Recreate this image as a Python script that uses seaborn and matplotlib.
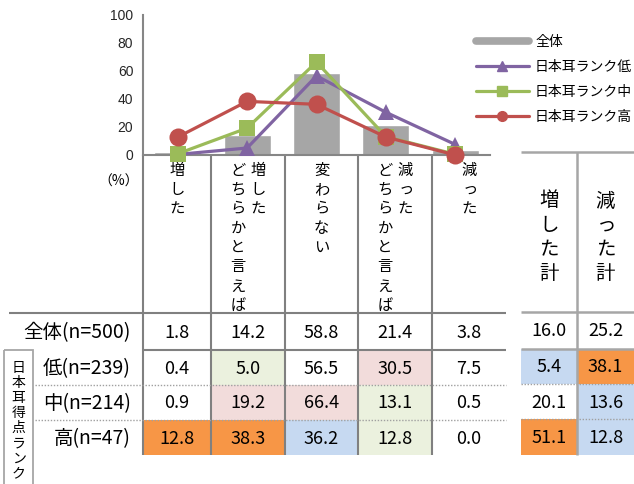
import numpy as np
import pandas as pd
import matplotlib
matplotlib.use("Agg")
import matplotlib.pyplot as plt
from matplotlib.lines import Line2D
from matplotlib.patches import Rectangle
import seaborn as sns

# ---- data -------------------------------------------------------------
# header columns of each category, listed right-to-left (vertical writing)
categories = ["増した", "増した\nどちらかと言えば", "変わらない",
              "減った\nどちらかと言えば", "減った"]
row_labels = ["全体(n=500)", "低(n=239)", "中(n=214)", "高(n=47)"]
series_names = ["全体", "日本耳ランク低", "日本耳ランク中", "日本耳ランク高"]
overall = [1.8, 14.2, 58.8, 21.4, 3.8]
rank_low = [0.4, 5.0, 56.5, 30.5, 7.5]
rank_mid = [0.9, 19.2, 66.4, 13.1, 0.5]
rank_high = [12.8, 38.3, 36.2, 12.8, 0.0]
total_headers = ["増した計", "減った計"]
total_increase = [16.0, 5.4, 20.1, 51.1]
total_decrease = [25.2, 38.1, 13.6, 12.8]
group_title = "日本耳得点ランク"
unit_label = "（%）"
y_ticks = [0, 20, 40, 60, 80, 100]

# cell highlight codes: o = orange, b = blue, p = pink, g = green
fill_main = [
    ["", "", "", "", ""],
    ["", "g", "", "p", ""],
    ["", "p", "p", "g", ""],
    ["o", "o", "b", "g", ""],
]
fill_totals = [
    ["", ""],
    ["b", "o"],
    ["", "b"],
    ["o", "b"],
]

# ---- style ------------------------------------------------------------
sns.set_style("white")
plt.rcParams["font.family"] = ["Noto Sans CJK JP", "DejaVu Sans"]
plt.rcParams["text.color"] = "#000000"

FILL = {"o": "#F79646", "b": "#C6D9F1", "p": "#F2DCDB", "g": "#EBF1DE"}
BAR_C = "#A6A6A6"
LINE_C = ["#8064A2", "#9BBB59", "#C0504D"]
MARKERS = ["^", "s", "o"]
MSIZES = [11, 11, 13]
GRID_C = "#808080"
TOT_C = "#A6A6A6"

W, H = 634, 484
fig = plt.figure(figsize=(W / 100, H / 100), dpi=100)

# overlay in pixel units for the data table
ax_t = fig.add_axes([0, 0, 1, 1])
ax_t.set_xlim(0, W)
ax_t.set_ylim(H, 0)
ax_t.axis("off")

# chart area
ax = fig.add_axes([143 / W, 1 - 155 / H, (490 - 143) / W, (155 - 15) / H])
ax.patch.set_alpha(0)

df = pd.DataFrame({"cat": categories, "value": overall})
sns.barplot(data=df, x="cat", y="value", color=BAR_C, width=0.68,
            saturation=1, ax=ax, zorder=2)

for vals, col, mk, ms in zip([rank_low, rank_mid, rank_high], LINE_C, MARKERS, MSIZES):
    d = pd.DataFrame({"cat": categories, "value": vals})
    sns.lineplot(data=d, x="cat", y="value", sort=False, color=col, marker=mk,
                 markersize=ms, markeredgecolor=col, markeredgewidth=0,
                 linewidth=2.3, legend=False, ax=ax, clip_on=False, zorder=4)

ax.set_xlim(-0.5, len(categories) - 0.5)
ax.set_ylim(0, 100)
ax.set_yticks(y_ticks)
ax.set_xticks([])
ax.set_xlabel("")
ax.set_ylabel("")
sns.despine(ax=ax)
for side in ("left", "bottom"):
    ax.spines[side].set_color("#868686")
    ax.spines[side].set_linewidth(1.5)
ax.tick_params(axis="y", direction="inout", length=6, width=1.2, color="#868686",
               labelsize=10, pad=4)
for lab in ax.get_yticklabels():
    lab.set_family(["Liberation Sans", "DejaVu Sans"])

# legend
handles = [Line2D([], [], color=BAR_C, lw=5.5)]
for col, mk in zip(LINE_C, MARKERS):
    handles.append(Line2D([], [], color=col, lw=2.3, marker=mk, markersize=7,
                          markeredgecolor=col))
fig.legend(handles, series_names, loc="upper left",
           bbox_to_anchor=(476 / W, 1 - 35 / H), frameon=False, fontsize=10,
           handlelength=3.8, handletextpad=0.45, labelspacing=0.78,
           borderpad=0, borderaxespad=0)

# ---- table ------------------------------------------------------------
col_edges = [143, 211, 285, 358, 432, 506]
row_edges = [313, 350, 385, 420, 455]
head_top = 155
tot_edges = [521, 577, 634]
tot_rows = [312, 349, 384, 419, 455]
tot_top = 152


def vtext(x, y0, s, pitch, size):
    for i, ch in enumerate(s):
        dx = 1.5 if ch in "っゃゅょ" else 0
        ax_t.text(x + dx, y0 + i * pitch, ch, ha="center", va="center",
                  fontsize=size)


# cell fills
for r, row in enumerate(fill_main):
    for c, code in enumerate(row):
        if code:
            ax_t.add_patch(Rectangle((col_edges[c], row_edges[r]),
                                     col_edges[c + 1] - col_edges[c],
                                     row_edges[r + 1] - row_edges[r],
                                     fc=FILL[code], ec="none", zorder=0))
for r, row in enumerate(fill_totals):
    for c, code in enumerate(row):
        if code:
            ax_t.add_patch(Rectangle((tot_edges[c], tot_rows[r]),
                                     tot_edges[c + 1] - tot_edges[c],
                                     tot_rows[r + 1] - tot_rows[r],
                                     fc=FILL[code], ec="none", zorder=0))

# category headers (vertical writing)
for c, label in enumerate(categories):
    cx = (col_edges[c] + col_edges[c + 1]) / 2
    cols = label.split("\n")
    n = len(cols)
    for k, s in enumerate(cols):
        x = cx + (n - 1) * 10 - k * 20
        vtext(x, 170, s, 19.4, 11)

for c, label in enumerate(total_headers):
    cx = (tot_edges[c] + tot_edges[c + 1]) / 2
    vtext(cx, 201, label, 24.3, 14)

vtext(18.5, 368, group_title, 15.1, 10)
ax_t.text(139, 182, unit_label, ha="right", va="center", fontsize=10)

# values
table_rows = [overall, rank_low, rank_mid, rank_high]
for r, vals in enumerate(table_rows):
    cy = (row_edges[r] + row_edges[r + 1]) / 2 + 1
    for c, v in enumerate(vals):
        cx = (col_edges[c] + col_edges[c + 1]) / 2
        ax_t.text(cx, cy, f"{v:.1f}", ha="center", va="center", fontsize=13)
    ax_t.text(131, cy, row_labels[r], ha="right", va="center", fontsize=14)
    for c, v in enumerate([total_increase[r], total_decrease[r]]):
        cx = (tot_edges[c] + tot_edges[c + 1]) / 2
        ty = (tot_rows[r] + tot_rows[r + 1]) / 2 + 1
        ax_t.text(cx, ty, f"{v:.1f}", ha="center", va="center", fontsize=13)

# grid lines of the main table
lk = dict(color=GRID_C, lw=1.5, solid_capstyle="butt", zorder=1)
for x in col_edges[:-1]:
    ax_t.plot([x, x], [head_top, row_edges[-1]], **lk)
ax_t.plot([9, col_edges[-1]], [row_edges[0], row_edges[0]], **lk)
ax_t.plot([col_edges[0], col_edges[-1]], [row_edges[1], row_edges[1]], **lk)
for y in row_edges[2:4]:
    ax_t.plot([35, col_edges[-1]], [y, y], color="#A0A0A0", lw=1,
              ls=(0, (1, 1.2)), zorder=1)

# grid lines of the totals table
tk = dict(color=TOT_C, lw=1.8, solid_capstyle="butt", zorder=1)
for y in [tot_top, tot_rows[0], tot_rows[1]]:
    ax_t.plot([tot_edges[0], tot_edges[-1]], [y, y], **tk)
for y in tot_rows[2:4]:
    ax_t.plot([tot_edges[0], tot_edges[-1]], [y, y], color="#A0A0A0", lw=1,
              ls=(0, (1, 1.2)), zorder=1)
ax_t.plot([tot_edges[1], tot_edges[1]], [tot_top, tot_rows[-1]], **tk)

# frame around the rank group title
ax_t.add_patch(Rectangle((4, 350), 29, 150, fc="none", ec=TOT_C, lw=1.3,
                         zorder=1))

fig.savefig("out.png", dpi=100)
